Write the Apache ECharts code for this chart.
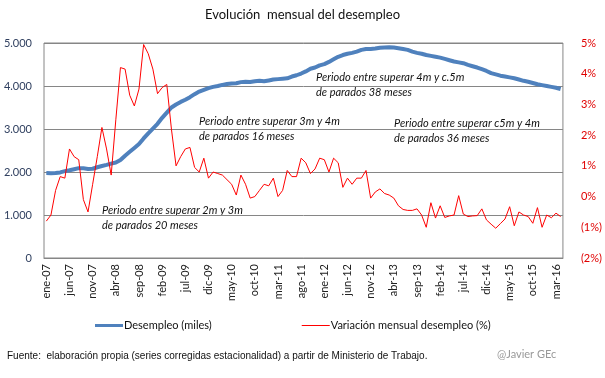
<!DOCTYPE html>
<html><head><meta charset="utf-8">
<script src="https://cdn.jsdelivr.net/npm/echarts@6/dist/echarts.min.js"></script>
<style>html,body{margin:0;padding:0;background:#fff}#c{width:605px;height:378px}</style>
</head><body><div id="c"></div>
<script>
const mesesAbr = ['ene','feb','mar','abr','may','jun','jul','ago','sep','oct','nov','dic'];
const categories = [];
for (let y = 7; y <= 16; y++) for (let m = 0; m < 12; m++) { if (y === 16 && m > 3) break; categories.push(mesesAbr[m] + '-' + String(y).padStart(2,'0')); }

const desempleo = [
1975,1972,1975,1990,2020,2040,2065,2090,2085,2070,2075,2110,
2140,2165,2195,2220,2280,2380,2470,2560,2650,2780,2900,3010,
3120,3260,3380,3500,3570,3630,3680,3740,3810,3870,3910,3950,
3980,4000,4025,4045,4060,4065,4090,4100,4095,4110,4120,4110,
4130,4150,4160,4170,4180,4220,4250,4290,4340,4400,4430,4480,
4510,4560,4620,4680,4720,4750,4770,4800,4840,4860,4860,4870,
4890,4895,4900,4895,4880,4860,4840,4800,4770,4750,4720,4700,
4680,4660,4630,4600,4570,4550,4530,4490,4460,4430,4390,4350,
4300,4270,4240,4220,4200,4180,4150,4120,4100,4070,4040,4020,
4000,3980,3960,3930];

const variacion = [
-0.8,-0.6,0.2,0.65,0.6,1.55,1.3,1.2,-0.1,-0.5,0.4,1.3,
2.25,1.55,0.7,2.5,4.2,4.15,3.3,2.95,3.5,4.95,4.65,4.15,
3.35,3.55,3.65,2.2,1.0,1.3,1.55,1.6,0.95,0.8,1.25,0.6,
0.8,0.75,0.7,0.55,0.4,0.05,0.7,0.4,-0.05,0.0,0.2,0.4,
0.35,0.6,0.0,0.2,0.85,0.65,0.65,1.25,1.1,0.75,0.9,1.25,
1.2,0.8,1.25,1.1,0.3,0.6,0.4,0.6,0.6,0.85,-0.05,0.15,
0.25,0.1,0.05,-0.05,-0.3,-0.42,-0.45,-0.45,-0.4,-0.6,-1.0,-0.2,
-0.7,-0.3,-0.68,-0.63,-0.6,0.03,-0.57,-0.65,-0.63,-0.62,-0.4,-0.76,
-0.9,-1.03,-0.88,-0.73,-0.33,-0.95,-0.5,-0.6,-0.65,-0.87,-0.36,-1.0,
-0.6,-0.69,-0.54,-0.65];

const titulo = 'Evolución  mensual del desempleo';
const serieNombres = ['Desempleo (miles)', 'Variación mensual desempleo (%)'];
const notas = [
  ['Periodo entre superar 4m y c.5m', 'de parados 38 meses'],
  ['Periodo entre superar c5m y 4m', 'de parados 36 meses'],
  ['Periodo entre superar 3m y 4m', 'de parados 16 meses'],
  ['Periodo entre superar 2m y 3m', 'de parados 20 meses']
];
const fuente = 'Fuente:  elaboración propia (series corregidas estacionalidad) a partir de Ministerio de Trabajo.';
const firma = '@Javier GEc';

const FONT = 'Lato, "Open Sans", sans-serif';
const chart = echarts.init(document.getElementById('c'));
const notaPos = [[316,70],[394,116],[199,114],[102,203]];
const graphics = [];
notas.forEach((n, i) => {
  graphics.push({type:'text', left: notaPos[i][0], top: notaPos[i][1],
    style:{text: n.join('\n'), font: 'italic 11px ' + FONT, fill:'#111', lineHeight: 15}});
});
graphics.push({type:'text', left: 7, top: 351, style:{text: fuente, font: '10px "Liberation Sans Narrow", "Liberation Sans", sans-serif', fill:'#111'}});
graphics.push({type:'text', left: 497, top: 349, style:{text: firma, font: '11px ' + FONT, fill:'#999'}});

chart.setOption({
  animation: false,
  title: {text: titulo, left: 'center', top: 3, textStyle:{fontFamily: FONT, fontSize: 13, fontWeight: 'normal', color:'#111'}},
  grid: {left: 44, right: 40, top: 43, bottom: 120, show: true, borderColor:'#868686', borderWidth: 1},
  legend: {bottom: 42, left: 90, itemGap: 90, itemWidth: 28, itemHeight: 14,
    textStyle:{fontFamily: FONT, fontSize: 11, color:'#111', padding:[0,0,0,-4]},
    data: [{name: serieNombres[0], icon:'path://M0,0h28v3h-28z'}, {name: serieNombres[1], icon:'path://M0,0h28v1h-28z'}]},
  xAxis: {type:'category', data: categories, boundaryGap: true,
    axisLine:{lineStyle:{color:'#868686'}}, axisTick:{show:false},
    axisLabel:{interval: 4, rotate: 90, fontFamily: FONT, fontSize: 11, color:'#222', margin: 6}},
  yAxis: [
    {type:'value', min: 0, max: 5000, interval: 1000,
     axisLabel:{fontFamily: FONT, fontSize: 11, color:'#2f3f5f', margin: 12,
       formatter: v => v === 0 ? '0' : (v/1000).toFixed(3)},
     splitLine:{lineStyle:{color:'#868686'}}, axisLine:{show:false}, axisTick:{show:false}},
    {type:'value', min: -2, max: 5, interval: 1, position:'right',
     axisLabel:{fontFamily: FONT, fontSize: 11, color:'#e00000', margin: 18,
       formatter: v => v < 0 ? '(' + Math.abs(v) + '%)' : v + '%'},
     splitLine:{show:false}, axisLine:{show:false}, axisTick:{show:false}}
  ],
  series: [
    {name: serieNombres[0], type:'line', data: desempleo, yAxisIndex: 0, symbol:'none',
     lineStyle:{color:'#4f81bd', width: 4}, itemStyle:{color:'#4f81bd'}, z: 2},
    {name: serieNombres[1], type:'line', data: variacion, yAxisIndex: 1, symbol:'none',
     lineStyle:{color:'#ff0000', width: 1}, itemStyle:{color:'#ff0000'}, z: 3}
  ],
  graphic: graphics
});
</script></body></html>
